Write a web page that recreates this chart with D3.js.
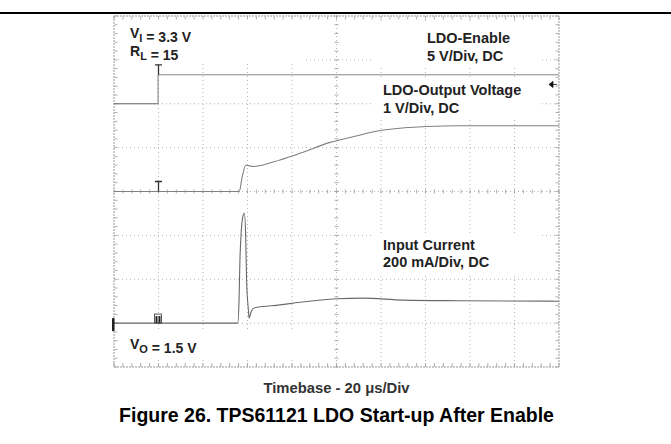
<!DOCTYPE html>
<html>
<head>
<meta charset="utf-8">
<title>TPS61121 LDO Start-up After Enable</title>
<script src="https://d3js.org/d3.v7.min.js"></script>
<style>
  body { margin: 0; background: #fff; }
  text { font-family: "Liberation Sans", Arial, sans-serif; font-weight: bold; }
</style>
</head>
<body>
<div id="chart"></div>
<script>
// time axis: 10 divisions of 20 us
const timeTicks = [0, 20, 40, 60, 80, 100, 120, 140, 160, 180, 200];
// vertical divisions (8 of them, centre at 0)
const divTicks = [-4, -3, -2, -1, 0, 1, 2, 3, 4];

// channel settings: units per division and ground position (in divisions)
const enableScale = 5,   enableOffset = 2;
const outScale = 1,      outOffset = 0;
const curScale = 200,    curOffset = -3;

// LDO-Enable (V)
const enableT = [0, 19.8, 19.8, 200];
const enableV = [0, 0, 3.3, 3.3];

// LDO output voltage (V)
const outT = [0, 56.3, 57.5, 59.2, 60.5, 62.6, 74.6, 83.6, 97.1, 106.1, 119.6, 132, 139.8, 154.6, 200];
const outV = [0, 0, 0.3, 0.6, 0.59, 0.57, 0.72, 0.87, 1.12, 1.23, 1.39, 1.46, 1.48, 1.5, 1.5];

// input current (mA)
const curT = [0, 55.6, 56.2, 56.6, 57.1, 57.8, 58.6, 59.2, 59.6, 60.4, 60.7, 61.6, 62.7, 63.7, 74.6, 83.6, 100.1, 111.9, 129.9, 155.5, 200];
const curI = [0, 0, 106, 288, 402, 480, 501, 388, 192, 61, 23, 51, 67, 71, 83, 95, 111, 114, 105, 102, 100];

const W = 671, H = 444;
const svg = d3.select("#chart").append("svg")
  .attr("width", W).attr("height", H);

// header rule
svg.append("line")
  .attr("x1", 0).attr("x2", W).attr("y1", 13).attr("y2", 13)
  .style("stroke", "#000").style("stroke-width", 2);

const x = d3.scaleLinear().domain([0, 200]).range([114, 559]);
const y = d3.scaleLinear().domain([-4, 4]).range([367, 16]);

const plot = svg.append("g");

// grid
plot.selectAll(".vgrid")
  .data(timeTicks.slice(1, -1)).enter().append("line")
  .attr("x1", d => x(d)).attr("x2", d => x(d))
  .attr("y1", y(4)).attr("y2", y(-4))
  .style("stroke", "#b5b5b5").style("stroke-dasharray", "1,3");

plot.selectAll(".hgrid")
  .data(divTicks.slice(1, -1)).enter().append("line")
  .attr("x1", x(0)).attr("x2", x(200))
  .attr("y1", d => y(d)).attr("y2", d => y(d))
  .style("stroke", "#b5b5b5").style("stroke-dasharray", "1,3");

// minor ticks on centre axes and on the frame (5 per division)
const minorT = d3.range(0, 200.01, 4);
const minorD = d3.range(-4, 4.01, 0.2);
function tickX(yPos, len) {
  plot.append("g").selectAll("line")
    .data(minorT).enter().append("line")
    .attr("x1", d => x(d)).attr("x2", d => x(d))
    .attr("y1", yPos - len).attr("y2", yPos + len)
    .style("stroke", "#999").style("stroke-width", 0.8);
}
function tickY(xPos, len) {
  plot.append("g").selectAll("line")
    .data(minorD).enter().append("line")
    .attr("x1", xPos - len).attr("x2", xPos + len)
    .attr("y1", d => y(d)).attr("y2", d => y(d))
    .style("stroke", "#999").style("stroke-width", 0.8);
}
tickX(y(0), 2);
tickY(x(100), 2);
tickX(y(-4) - 2, 2);
tickX(y(4) + 2, 1.5);
tickY(x(0) + 2, 1.5);
tickY(x(200) - 2, 1.5);

// frame
plot.append("rect")
  .attr("x", x(0)).attr("y", y(4))
  .attr("width", x(200) - x(0)).attr("height", y(-4) - y(4))
  .style("fill", "none").style("stroke", "#999").style("stroke-dasharray", "2,1");

// white label boxes masking the grid
const boxes = [
  [121, 20, 182, 43],
  [374, 22, 166, 46],
  [374, 78, 166, 40],
  [374, 233, 166, 42],
  [121, 331, 182, 26]
];
plot.selectAll(".box").data(boxes).enter().append("rect")
  .attr("x", d => d[0]).attr("y", d => d[1])
  .attr("width", d => d[2]).attr("height", d => d[3])
  .style("fill", "#fff");

// traces
function trace(ts, vs, perDiv, off, color, width) {
  const pts = ts.map((t, i) => [t, vs[i] / perDiv + off]);
  plot.append("path")
    .datum(pts)
    .attr("d", d3.line().x(d => x(d[0])).y(d => y(d[1])).curve(d3.curveMonotoneX))
    .style("fill", "none").style("stroke", color).style("stroke-width", width);
}
trace(enableT.slice(0, 2), enableV.slice(0, 2), enableScale, enableOffset, "#666", 1);
trace(enableT.slice(2), enableV.slice(2), enableScale, enableOffset, "#888", 1);
plot.append("line")
  .attr("x1", x(19.8)).attr("x2", x(19.8))
  .attr("y1", y(enableOffset)).attr("y2", y(3.3 / enableScale + enableOffset))
  .style("stroke", "#777");
trace(outT, outV, outScale, outOffset, "#808080", 1.1);
trace(curT, curI, curScale, curOffset, "#6a6a6a", 1.1);

// cursor markers at t = 20 us
function tee(t, level, h) {
  const cx = x(t), cy = y(level);
  plot.append("path")
    .attr("d", `M${cx},${cy} V${cy - h} M${cx - 3.5},${cy - h} H${cx + 3.5}`)
    .style("stroke", "#333").style("stroke-width", 1.3).style("fill", "none");
}
tee(20, 3.3 / enableScale + enableOffset, 10);
tee(20, outOffset, 10);
// current marker: small double bar
const mx = x(20), my = y(curOffset);
plot.append("rect").attr("x", mx - 4).attr("y", my - 9).attr("width", 7).attr("height", 9)
  .style("fill", "none").style("stroke", "#555").style("stroke-width", 1);
plot.append("rect").attr("x", mx - 3).attr("y", my - 7).attr("width", 2).attr("height", 7).style("fill", "#222");
plot.append("rect").attr("x", mx).attr("y", my - 7).attr("width", 2).attr("height", 7).style("fill", "#222");
// ground marker on left edge
plot.append("rect").attr("x", x(0) - 2).attr("y", y(curOffset) - 5)
  .attr("width", 2.5).attr("height", 13).style("fill", "#222");
// trigger arrow at right
const ax = x(200) - 7, ay = y(2.44);
plot.append("path")
  .attr("d", `M${ax - 3},${ay} L${ax + 1},${ay - 3} L${ax + 1},${ay + 3} Z M${ax + 1},${ay} H${ax + 5}`)
  .style("fill", "#111").style("stroke", "#111").style("stroke-width", 0.8);

// labels
function label(xp, yp, parts, size) {
  const t = plot.append("text").attr("x", xp).attr("y", yp)
    .style("font-size", size + "px").style("fill", "#222");
  parts.forEach(p => {
    if (p.sub) {
      t.append("tspan").attr("dy", 4).style("font-size", (size - 3) + "px").text(p.sub);
      t.append("tspan").attr("dy", -4).text("");
    } else {
      t.append("tspan").text(p.s);
    }
  });
}
label(130, 38, [{s: "V"}, {sub: "I"}, {s: " = 3.3 V"}], 14);
label(130, 56, [{s: "R"}, {sub: "L"}, {s: " = 15"}], 14);
label(427, 43, [{s: "LDO-Enable"}], 14.5);
label(427, 61, [{s: "5 V/Div, DC"}], 14.5);
label(383, 95, [{s: "LDO-Output Voltage"}], 14.5);
label(383, 113, [{s: "1 V/Div, DC"}], 14.5);
label(383, 250, [{s: "Input Current"}], 14.5);
label(383, 267, [{s: "200 mA/Div, DC"}], 14.5);
label(130, 349, [{s: "V"}, {sub: "O"}, {s: " = 1.5 V"}], 14);

svg.append("text")
  .attr("x", x(100)).attr("y", 393)
  .attr("text-anchor", "middle")
  .style("font-size", "14.8px").style("fill", "#333")
  .text("Timebase - 20 \u03BCs/Div");

svg.append("text")
  .attr("x", x(100)).attr("y", 422)
  .attr("text-anchor", "middle")
  .style("font-size", "19.5px").style("fill", "#000")
  .text("Figure 26. TPS61121 LDO Start-up After Enable");
</script>
</body>
</html>
